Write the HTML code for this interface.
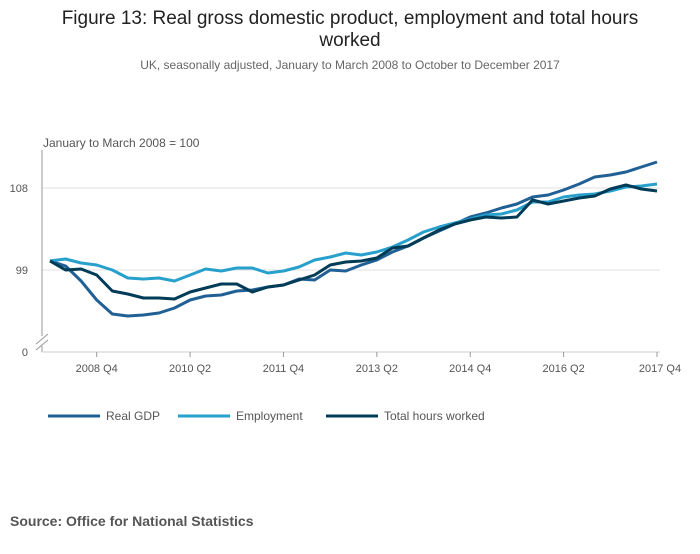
<!DOCTYPE html>
<html><head><meta charset="utf-8"><style>
body{margin:0;background:#fff;font-family:"Liberation Sans",sans-serif;}
svg text{font-family:"Liberation Sans",sans-serif;}
</style></head><body>
<svg width="700" height="549">
<text x="350" y="24" text-anchor="middle" font-size="19" fill="#222">Figure 13: Real gross domestic product, employment and total hours</text>
<text x="350" y="46" text-anchor="middle" font-size="19" fill="#222">worked</text>
<text x="350" y="69" text-anchor="middle" font-size="12" fill="#666">UK, seasonally adjusted, January to March 2008 to October to December 2017</text>
<text x="43" y="147" font-size="12" fill="#555">January to March 2008 = 100</text>
<g id="grid"></g>
<line x1="42" y1="150" x2="42" y2="336" stroke="#999"/>
<line x1="42" y1="346" x2="42" y2="352" stroke="#999"/>
<path d="M36,344 L48,334 M36,350 L48,340" stroke="#999" fill="none"/>
<line x1="42" y1="352" x2="660" y2="352" stroke="#ccc"/>
<g id="ticks"></g>
<g id="series"></g>
<g>
<line x1="48" y1="416" x2="100" y2="416" stroke="#206095" stroke-width="3"/>
<text x="106" y="420" font-size="12" fill="#555">Real GDP</text>
<line x1="178" y1="416" x2="230" y2="416" stroke="#27a0cc" stroke-width="3"/>
<text x="236" y="420" font-size="12" fill="#555">Employment</text>
<line x1="326" y1="416" x2="378" y2="416" stroke="#003c57" stroke-width="3"/>
<text x="384" y="420" font-size="12" fill="#555">Total hours worked</text>
</g>
<text x="10" y="526" font-size="14" font-weight="bold" fill="#555">Source: Office for National Statistics</text>
</svg>
<script>
const gdp=[100.0,99.44,97.79,95.71,94.17,93.95,94.06,94.28,94.83,95.71,96.15,96.26,96.69,96.80,97.13,97.35,98.01,97.90,99.00,98.89,99.55,100.10,100.98,101.63,102.51,103.28,104.05,104.82,105.26,105.80,106.24,107.01,107.23,107.78,108.44,109.21,109.43,109.76,110.30,110.85];
const employment=[100.0,100.21,99.77,99.55,99.00,98.12,98.01,98.12,97.79,98.45,99.11,98.89,99.22,99.22,98.67,98.89,99.33,100.10,100.43,100.87,100.65,100.98,101.52,102.29,103.17,103.72,104.16,104.60,105.04,105.15,105.59,106.46,106.46,107.01,107.23,107.34,107.67,108.11,108.22,108.44];
const hours=[100.0,99.00,99.11,98.45,96.69,96.37,95.93,95.93,95.82,96.58,97.02,97.46,97.46,96.58,97.13,97.35,97.90,98.45,99.55,99.88,99.99,100.32,101.41,101.63,102.51,103.39,104.05,104.49,104.82,104.71,104.82,106.68,106.24,106.57,106.90,107.12,107.89,108.33,107.89,107.67];
const xTickLabels=["2008 Q4","2010 Q2","2011 Q4","2013 Q2","2014 Q4","2016 Q2","2017 Q4"];
const xTickIndex=[3,9,15,21,27,33,39];
const yTicks=[99,108];
const NS="http://www.w3.org/2000/svg";
function x(i){return 50+i*(607/39);}
function y(v){return 188+(108-v)*(82/9);}
const grid=document.getElementById('grid');
yTicks.forEach(t=>{
 const l=document.createElementNS(NS,'line');
 l.setAttribute('x1',42);l.setAttribute('x2',660);l.setAttribute('y1',y(t));l.setAttribute('y2',y(t));l.setAttribute('stroke','#e2e2e2');
 
 
 grid.appendChild(l);
 const tx=document.createElementNS(NS,'text');
 tx.setAttribute('x',28);tx.setAttribute('y',y(t)+4);tx.setAttribute('text-anchor','end');tx.setAttribute('font-size','11');tx.setAttribute('fill','#555');
 tx.textContent=t;
 
 
 grid.appendChild(tx);
});
const z=document.createElementNS(NS,'text');
z.setAttribute('x',28);z.setAttribute('y',356);z.setAttribute('text-anchor','end');z.setAttribute('font-size','11');z.setAttribute('fill','#555');z.textContent='0';


grid.appendChild(z);
const ticks=document.getElementById('ticks');
xTickIndex.forEach((idx,k)=>{
 const l=document.createElementNS(NS,'line');
 l.setAttribute('x1',x(idx));l.setAttribute('x2',x(idx));l.setAttribute('y1',352);l.setAttribute('y2',357);l.setAttribute('stroke','#999');
 
 
 ticks.appendChild(l);
 const tx=document.createElementNS(NS,'text');
 tx.setAttribute('x',x(idx)+(k==6?3:0));tx.setAttribute('y',372);tx.setAttribute('text-anchor','middle');tx.setAttribute('font-size','11');tx.setAttribute('fill','#555');
 tx.textContent=xTickLabels[k];
 
 
 ticks.appendChild(tx);
});
const series=document.getElementById('series');
[[gdp,'#206095','line-real-gdp'],[employment,'#27a0cc','line-employment'],[hours,'#003c57','line-total-hours']].forEach(s=>{
 const p=document.createElementNS(NS,'path');
 p.setAttribute('d',s[0].map((v,i)=>(i?'L':'M')+x(i).toFixed(1)+','+y(v).toFixed(1)).join(' '));
 p.setAttribute('fill','none');p.setAttribute('stroke',s[1]);p.setAttribute('stroke-width','3');p.setAttribute('stroke-linejoin','round');
 
 
 series.appendChild(p);
});
</script>
</body></html>
